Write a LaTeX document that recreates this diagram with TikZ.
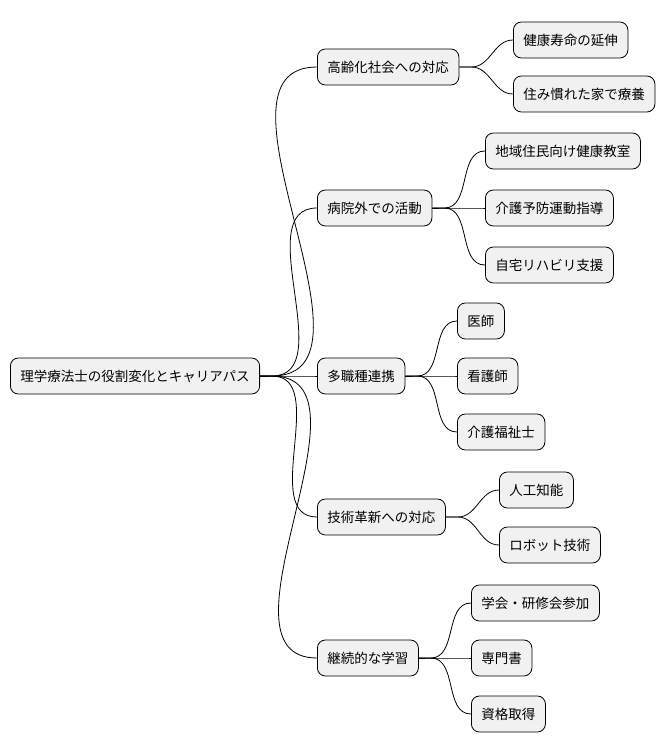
\documentclass[tikz,border=0pt]{standalone}
\usepackage{fontspec}
\setmainfont{Noto Sans CJK JP}
\begin{document}
\begin{tikzpicture}[x=1pt,y=-1pt,
  box/.style={draw=black,fill={rgb,255:red,241;green,241;blue,241},rounded corners=8pt,line width=0.8pt,minimum height=36pt,inner xsep=10pt,anchor=west,font=\fontsize{13.5}{15}\selectfont},
  con/.style={draw=black,line width=0.8pt}]
\useasboundingbox (0,0) rectangle (670,752);
\node[box] (r) at (10,376) {理学療法士の役割変化とキャリアパス};
\node[box] (a) at (317,67) {高齢化社会への対応};
\node[box] (b) at (317,208) {病院外での活動};
\node[box] (c) at (317,376) {多職種連携};
\node[box] (d) at (317,517) {技術革新への対応};
\node[box] (e) at (317,658) {継続的な学習};
\node[box] (a1) at (513,40) {健康寿命の延伸};
\node[box] (a2) at (513,94) {住み慣れた家で療養};
\node[box] (b1) at (485,151) {地域住民向け健康教室};
\node[box] (b2) at (485,208) {介護予防運動指導};
\node[box] (b3) at (485,265) {自宅リハビリ支援};
\node[box] (c1) at (457,321) {医師};
\node[box] (c2) at (457,376) {看護師};
\node[box] (c3) at (457,432) {介護福祉士};
\node[box] (d1) at (499,490) {人工知能};
\node[box] (d2) at (499,545) {ロボット技術};
\node[box] (e1) at (471,603) {学会・研修会参加};
\node[box] (e2) at (471,658) {専門書};
\node[box] (e3) at (471,714) {資格取得};
\foreach \p/\c in {r/a,r/b,r/c,r/d,r/e,a/a1,a/a2,b/b1,b/b2,b/b3,c/c1,c/c2,c/c3,d/d1,d/d2,e/e1,e/e2,e/e3}
  \draw[con] (\p.east) -- ++(12,0) to[out=0,in=180] (\c.west);
\end{tikzpicture}
\end{document}
